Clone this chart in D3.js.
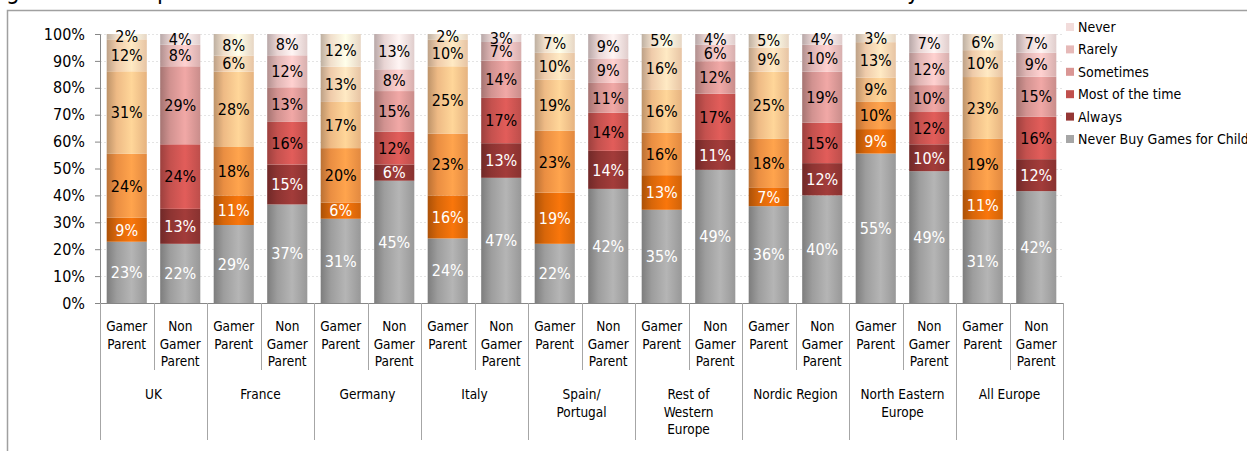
<!DOCTYPE html>
<html>
<head>
<meta charset="utf-8">
<script src="https://cdn.jsdelivr.net/npm/d3@7"></script>
<style>
  body { margin: 0; background: #fff; }
  svg text { font-family: "DejaVu Sans Condensed", "DejaVu Sans", sans-serif; }
</style>
</head>
<body>
<div id="chart"></div>
<script>
var width = 1247, height = 451;

// categories
var regions = ["UK", "France", "Germany", "Italy", "Spain/\nPortugal", "Rest of\nWestern\nEurope",
  "Nordic Region", "North Eastern\nEurope", "All Europe"];
var parentTypes = ["Gamer\nParent", "Non\nGamer\nParent"];

// series values, one per bar (region x parent type), bottom to top
var neverBuy      = [23, 22, 29, 37, 31, 45, 24, 47, 22, 42, 35, 49, 36, 40, 55, 49, 31, 42];
var always        = [ 9, 13, 11, 15,  6,  6, 16, 13, 19, 14, 13, 11,  7, 12,  9, 10, 11, 12];
var mostOfTheTime = [24, 24, 18, 16, 20, 12, 23, 17, 23, 14, 16, 17, 18, 15, 10, 12, 19, 16];
var sometimes     = [31, 29, 28, 13, 17, 15, 25, 14, 19, 11, 16, 12, 25, 19,  9, 10, 23, 15];
var rarely        = [12,  8,  6, 12, 13,  8, 10,  7, 10,  9, 16,  6,  9, 10, 13, 12, 10,  9];
var never         = [ 2,  4,  8,  8, 12, 13,  2,  3,  7,  9,  5,  4,  5,  4,  3,  7,  6,  7];

var seriesNames = ["Never Buy Games for Child", "Always", "Most of the time", "Sometimes", "Rarely", "Never"];
var yTicks = [0, 0.1, 0.2, 0.3, 0.4, 0.5, 0.6, 0.7, 0.8, 0.9, 1];

// colour sets: gamer parents in orange, non gamer parents in red
var gamerColors    = ["#a6a6a6", "#e46c0a", "#f79646", "#fbc48c", "#fcd6b3", "#fdead6"];
var nonGamerColors = ["#a6a6a6", "#953735", "#cf5552", "#dc9a98", "#ebbfbe", "#f5e0df"];
var legendColors   = ["#a6a6a6", "#953735", "#c0504d", "#da9694", "#e6b9b8", "#f2dcdb"];

var allSeries = [neverBuy, always, mostOfTheTime, sometimes, rarely, never];
var bars = [];
regions.forEach(function(r, i) {
  parentTypes.forEach(function(p, j) {
    var k = i * 2 + j, row = {id: k, region: r, parent: j};
    seriesNames.forEach(function(s, si) { row[s] = allSeries[si][k]; });
    bars.push(row);
  });
});

var plot = {left: 100, right: 1063, top: 34, bottom: 303};

var svg = d3.select("#chart").append("svg")
  .attr("width", width)
  .attr("height", height);

var defs = svg.append("defs");
function makeGradient(id, c) {
  var base = d3.color(c);
  var g = defs.append("linearGradient").attr("id", id)
    .attr("x1", "0%").attr("x2", "100%").attr("y1", "0%").attr("y2", "0%");
  g.append("stop").attr("offset", "0%").attr("stop-color", base.darker(0.8));
  g.append("stop").attr("offset", "25%").attr("stop-color", base.darker(0.15));
  g.append("stop").attr("offset", "62%").attr("stop-color", base.brighter(0.25));
  g.append("stop").attr("offset", "100%").attr("stop-color", base.darker(0.25));
}
gamerColors.forEach(function(c, i) { makeGradient("g" + i, c); });
nonGamerColors.forEach(function(c, i) { makeGradient("n" + i, c); });

// chart frame
svg.append("path")
  .attr("d", "M7.5," + height + "V10.5H" + width)
  .attr("fill", "none")
  .attr("stroke", "#a0a0a0")
  .attr("stroke-width", 1.5);

// title, cut off at the top of the picture
svg.append("g").selectAll("text")
  .data([{t: "g", x: 6}, {t: "p", x: 157}, {t: "y", x: 907}])
  .enter().append("text")
    .attr("x", function(d) { return d.x; })
    .attr("y", -1)
    .style("font-size", "24px")
    .style("fill", "#000")
    .text(function(d) { return d.t; });

var x = d3.scaleBand()
  .domain(bars.map(function(d) { return d.id; }))
  .range([plot.left, plot.right])
  .paddingInner(0.25)
  .paddingOuter(0.125);

var y = d3.scaleLinear()
  .domain([0, 1])
  .range([plot.bottom, plot.top]);

// faint gridlines
svg.append("g").selectAll("line")
  .data(yTicks.slice(1))
  .enter().append("line")
    .attr("x1", plot.left).attr("x2", plot.right)
    .attr("y1", function(d) { return Math.round(y(d)) + 0.5; })
    .attr("y2", function(d) { return Math.round(y(d)) + 0.5; })
    .attr("stroke", "#e4e4e4")
    .attr("stroke-dasharray", "2,2");

var stack = d3.stack()
  .keys(seriesNames)
  .offset(d3.stackOffsetExpand);
var layers = stack(bars);

var layer = svg.append("g").selectAll("g")
  .data(layers)
  .enter().append("g");

layer.selectAll("rect")
  .data(function(d, i) { return d.map(function(p) { return {p: p, s: i}; }); })
  .enter().append("rect")
    .attr("x", function(d) { return x(d.p.data.id); })
    .attr("width", x.bandwidth())
    .attr("y", function(d) { return y(d.p[1]); })
    .attr("height", function(d) { return y(d.p[0]) - y(d.p[1]); })
    .attr("fill", function(d) { return "url(#" + (d.p.data.parent === 0 ? "g" : "n") + d.s + ")"; });

layer.selectAll("text")
  .data(function(d, i) { return d.map(function(p) { return {p: p, s: i, key: d.key}; }); })
  .enter().append("text")
    .attr("x", function(d) { return x(d.p.data.id) + x.bandwidth() / 2; })
    .attr("y", function(d) { return (y(d.p[0]) + y(d.p[1])) / 2; })
    .attr("dy", "0.36em")
    .attr("text-anchor", "middle")
    .style("font-size", "16px")
    .style("fill", function(d) { return d.s < 2 ? "#fff" : "#000"; })
    .text(function(d) { return d.p.data[d.key] + "%"; });

// y axis
var yAxis = svg.append("g")
  .attr("transform", "translate(" + plot.left + ",0)")
  .call(d3.axisLeft(y).tickValues(yTicks).tickFormat(d3.format(".0%")).tickSize(5).tickPadding(10));
yAxis.select(".domain").attr("stroke", "#868686");
yAxis.selectAll(".tick line").attr("stroke", "#868686");
yAxis.selectAll(".tick text")
  .style("font-size", "16px")
  .style("font-family", "'DejaVu Sans Condensed', 'DejaVu Sans', sans-serif")
  .attr("fill", "#000");

// category axis
var step = x.step();
var axisColor = "#a6a6a6";
svg.append("line")
  .attr("x1", plot.left).attr("x2", plot.right)
  .attr("y1", plot.bottom + 0.5).attr("y2", plot.bottom + 0.5)
  .attr("stroke", "#868686");

svg.append("g").selectAll("line")
  .data(d3.range(bars.length + 1))
  .enter().append("line")
    .attr("x1", function(i) { return Math.round(plot.left + i * step) + 0.5; })
    .attr("x2", function(i) { return Math.round(plot.left + i * step) + 0.5; })
    .attr("y1", plot.bottom)
    .attr("y2", function(i) { return i % 2 === 0 ? 440 : 370; })
    .attr("stroke", axisColor);

function multiline(sel, lines, lineHeight) {
  sel.selectAll("tspan")
    .data(lines)
    .enter().append("tspan")
      .attr("x", sel.attr("x"))
      .attr("dy", function(d, i) { return i === 0 ? 0 : lineHeight; })
      .text(function(d) { return d; });
}

svg.append("g").selectAll("text")
  .data(bars)
  .enter().append("text")
    .attr("x", function(d) { return x(d.id) + x.bandwidth() / 2; })
    .attr("y", 331)
    .attr("text-anchor", "middle")
    .style("font-size", "13.5px")
    .style("fill", "#000")
    .each(function(d) { multiline(d3.select(this), parentTypes[d.parent].split("\n"), 17.5); });

svg.append("g").selectAll("text")
  .data(regions)
  .enter().append("text")
    .attr("x", function(d, i) { return plot.left + (i * 2 + 1) * step; })
    .attr("y", 399)
    .attr("text-anchor", "middle")
    .style("font-size", "13.5px")
    .style("fill", "#000")
    .each(function(d) { multiline(d3.select(this), d.split("\n"), 17.5); });

// legend, top to bottom
var legend = svg.append("g").selectAll("g")
  .data(seriesNames.slice().reverse())
  .enter().append("g")
    .attr("transform", function(d, i) { return "translate(1066," + (27 + i * 22.4) + ")"; });
legend.append("rect")
  .attr("x", 0).attr("y", -4)
  .attr("width", 8).attr("height", 8)
  .attr("fill", function(d) { return legendColors[seriesNames.indexOf(d)]; });
legend.append("text")
  .attr("x", 12)
  .attr("dy", "0.36em")
  .style("font-size", "14px")
  .style("fill", "#000")
  .text(function(d) { return d; });
</script>
</body>
</html>
